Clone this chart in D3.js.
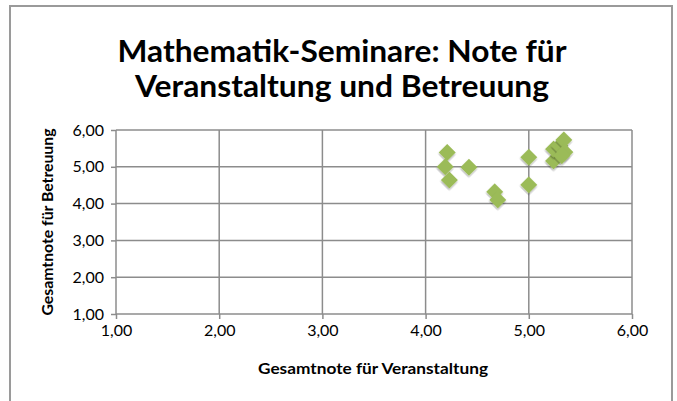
<!DOCTYPE html>
<html>
<head>
<meta charset="utf-8">
<script src="https://cdn.jsdelivr.net/npm/d3@7"></script>
<style>
  body { margin: 0; background: #fff; }
  text { font-family: Lato, "Open Sans", sans-serif; fill: #000; }
</style>
</head>
<body>
<svg></svg>
<script>
// data
var xValues = [4.21, 4.19, 4.23, 4.42, 4.67, 4.70, 5.00, 5.00, 5.24, 5.24, 5.30, 5.34, 5.35, 5.32];
var yValues = [5.39, 5.00, 4.64, 4.99, 4.32, 4.10, 5.26, 4.51, 5.16, 5.48, 5.57, 5.73, 5.40, 5.30];
var tickValues = [1, 2, 3, 4, 5, 6];
var titleLines = ["Mathematik-Seminare: Note für", "Veranstaltung und Betreuung"];

var svgWidth = 677, svgHeight = 401;
var svg = d3.select("svg")
    .attr("width", svgWidth)
    .attr("height", svgHeight);

// outer chart border (bottom edge is cut off)
svg.append("rect")
    .attr("x", 10).attr("y", 6)
    .attr("width", 662).attr("height", 420)
    .attr("fill", "none")
    .attr("stroke", "#9a9a9a")
    .attr("stroke-width", 2);

var x = d3.scaleLinear().domain([1, 6]).range([116, 632]);
var y = d3.scaleLinear().domain([1, 6]).range([314, 130]);
var fmt = function (d) { return d3.format(".2f")(d).replace(".", ","); };

// grid
svg.append("g").selectAll("line").data(tickValues).enter()
    .append("line")
    .attr("x1", function (d) { return x(d); })
    .attr("x2", function (d) { return x(d); })
    .attr("y1", y(1)).attr("y2", y(6))
    .attr("stroke", "#8c8c8c").attr("stroke-width", 1.5);
svg.append("g").selectAll("line").data(tickValues).enter()
    .append("line")
    .attr("y1", function (d) { return y(d); })
    .attr("y2", function (d) { return y(d); })
    .attr("x1", x(1)).attr("x2", x(6))
    .attr("stroke", "#8c8c8c").attr("stroke-width", 1.5);

// axes
var xAxis = svg.append("g")
    .attr("transform", "translate(0," + y(1) + ")")
    .call(d3.axisBottom(x).tickValues(tickValues).tickFormat(fmt).tickSize(5).tickPadding(6));
var yAxis = svg.append("g")
    .attr("transform", "translate(" + x(1) + ",0)")
    .call(d3.axisLeft(y).tickValues(tickValues).tickFormat(fmt).tickSize(5).tickPadding(7));
[xAxis, yAxis].forEach(function (a) {
    a.select(".domain").remove();
    a.selectAll("line").attr("stroke", "#8c8c8c").attr("stroke-width", 1.5);
    a.selectAll("text").attr("font-size", 16).attr("font-family", "Lato").attr("fill", "#000");
});

// axis titles
svg.append("text")
    .text("Gesamtnote für Veranstaltung")
    .attr("x", 373).attr("y", 374)
    .attr("text-anchor", "middle")
    .attr("font-size", 15).attr("font-weight", "bold")
    .attr("textLength", 230).attr("lengthAdjust", "spacingAndGlyphs");
svg.append("text")
    .text("Gesamtnote für Betreuung")
    .attr("transform", "translate(53,222) rotate(-90)")
    .attr("text-anchor", "middle")
    .attr("font-size", 15).attr("font-weight", "bold")
    .attr("textLength", 187).attr("lengthAdjust", "spacingAndGlyphs");

// title
var titleWidths = [449, 414];
svg.selectAll("text.title").data(titleLines).enter()
    .append("text")
    .attr("class", "title")
    .text(function (d) { return d; })
    .attr("x", 342)
    .attr("y", function (d, i) { return 62 + i * 35; })
    .attr("text-anchor", "middle")
    .attr("font-size", 31).attr("font-weight", "bold")
    .attr("textLength", function (d, i) { return titleWidths[i]; })
    .attr("lengthAdjust", "spacingAndGlyphs");

// points
var defs = svg.append("defs");
defs.append("filter").attr("id", "shadow")
    .append("feDropShadow")
    .attr("dx", 1).attr("dy", 1.5).attr("stdDeviation", 1.2)
    .attr("flood-color", "#000").attr("flood-opacity", 0.3);

var diamond = d3.symbol().type(d3.symbolSquare).size(145);
svg.append("g").selectAll("path")
    .data(xValues)
    .enter()
    .append("path")
    .attr("d", diamond)
    .attr("transform", function (d, i) {
        return "translate(" + x(d) + "," + y(yValues[i]) + ") rotate(45)";
    })
    .attr("fill", "#9bbb59")
    .attr("filter", "url(#shadow)");
</script>
</body>
</html>
